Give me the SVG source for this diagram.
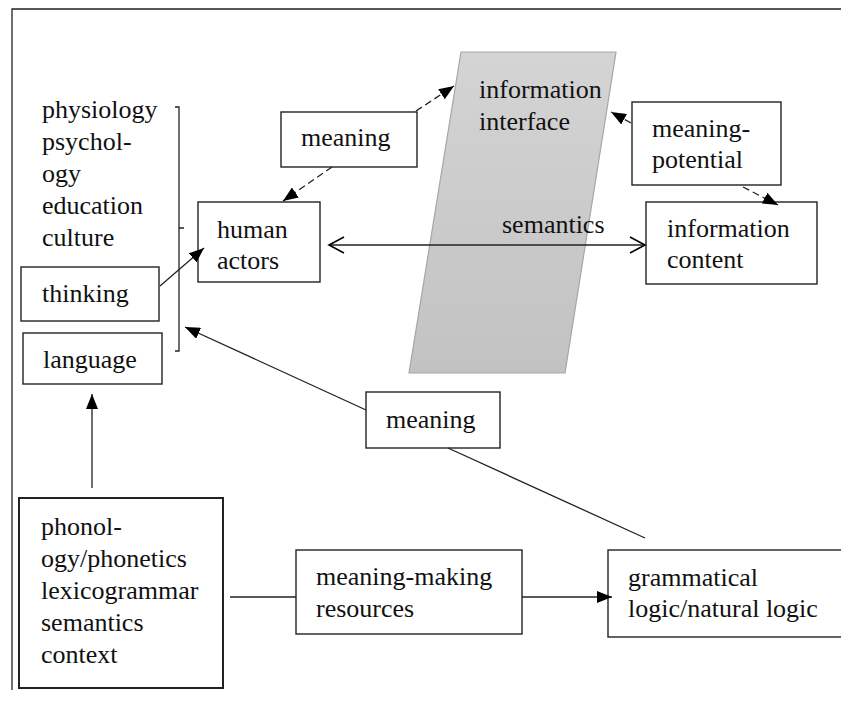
<svg xmlns="http://www.w3.org/2000/svg" width="841" height="702" viewBox="0 0 841 702">
<defs>
<style>
text{font-size:26px;fill:#111}
.box{fill:#fff;stroke:#222;stroke-width:1.4}
.thick{stroke-width:2}
.ln{fill:none;stroke:#222;stroke-width:1.3}
.dash{stroke-dasharray:7 4}
</style>
<linearGradient id="g" x1="0" y1="0" x2="0" y2="1">
<stop offset="0" stop-color="#d4d4d4"/>
<stop offset="1" stop-color="#c2c2c2"/>
</linearGradient>
<marker id="ah" markerUnits="userSpaceOnUse" markerWidth="16" markerHeight="12" refX="15" refY="6" orient="auto">
<path d="M0,0 L15,6 L0,12 z" fill="#000"/>
</marker>
<marker id="oa" markerUnits="userSpaceOnUse" markerWidth="18" markerHeight="20" refX="16" refY="9" orient="auto-start-reverse">
<path d="M1,1 L16,9 L1,17" fill="none" stroke="#000" stroke-width="1.6"/>
</marker>
</defs>
<rect width="841" height="702" fill="#fff"/>
<g font-family="Liberation Serif, Times New Roman, serif">
<g id="frame">
<path class="ln" d="M12,690 V9 H841" stroke-width="1.5"/>
</g>
<g id="interface">
<polygon points="461,52 616,52 565,373 409,373" fill="url(#g)" stroke="#a6a6a6" stroke-width="1.2"/>
<text x="479" y="98">information</text>
<text x="479" y="130">interface</text>
</g>
<g id="factors">
<text x="42" y="118">physiology</text>
<text x="42" y="150">psychol-</text>
<text x="42" y="182">ogy</text>
<text x="42" y="214">education</text>
<text x="42" y="246">culture</text>
<path class="ln" d="M175,107 H179 V351 H175 M179,228 H184"/>
</g>
<g id="thinking">
<rect class="box" x="21" y="267" width="138" height="54"/>
<text x="42" y="302">thinking</text>
</g>
<g id="language">
<rect class="box" x="23" y="333" width="139" height="51"/>
<text x="43" y="368">language</text>
</g>
<g id="meaning-top">
<rect class="box" x="281" y="112" width="136" height="55"/>
<text x="301" y="146">meaning</text>
</g>
<g id="human-actors">
<rect class="box" x="198" y="202" width="122" height="80"/>
<text x="217" y="238">human</text>
<text x="217" y="269">actors</text>
</g>
<g id="meaning-potential">
<rect class="box" x="632" y="102" width="149" height="83"/>
<text x="652" y="137">meaning-</text>
<text x="652" y="168">potential</text>
</g>
<g id="information-content">
<rect class="box" x="646" y="202" width="171" height="82"/>
<text x="667" y="237">information</text>
<text x="667" y="268">content</text>
</g>
<g id="semantics-label">
<text x="502" y="233">semantics</text>
</g>
<g id="meaning-mid">
<rect class="box" x="366" y="392" width="134" height="56"/>
<text x="386" y="428">meaning</text>
</g>
<g id="phonology">
<rect class="box thick" x="19" y="498" width="204" height="190"/>
<text x="41" y="535">phonol-</text>
<text x="41" y="567">ogy/phonetics</text>
<text x="41" y="599">lexicogrammar</text>
<text x="41" y="631">semantics</text>
<text x="41" y="663">context</text>
</g>
<g id="meaning-making">
<rect class="box" x="296" y="550" width="226" height="84"/>
<text x="316" y="585">meaning-making</text>
<text x="316" y="617">resources</text>
</g>
<g id="grammatical">
<rect class="box" x="608" y="550" width="240" height="87"/>
<text x="628" y="586">grammatical</text>
<text x="628" y="617">logic/natural logic</text>
</g>
<g id="connectors">
<line class="ln" x1="160" y1="286" x2="204" y2="248" marker-end="url(#ah)"/>
<line class="ln dash" x1="332" y1="167" x2="283" y2="201" marker-end="url(#ah)"/>
<line class="ln dash" x1="416" y1="111" x2="454" y2="86" marker-end="url(#ah)"/>
<line class="ln dash" x1="631" y1="123" x2="611" y2="112" marker-end="url(#ah)"/>
<line class="ln dash" x1="743" y1="187" x2="778" y2="205" marker-end="url(#ah)"/>
<line class="ln" x1="329" y1="245" x2="645" y2="245" stroke-width="2" marker-start="url(#oa)" marker-end="url(#oa)"/>
<line class="ln" x1="92" y1="488" x2="92" y2="394" marker-end="url(#ah)"/>
<line class="ln" x1="366" y1="410" x2="185" y2="327" marker-end="url(#ah)"/>
<line class="ln" x1="645" y1="538" x2="448" y2="448"/>
<line class="ln" x1="230" y1="597" x2="296" y2="597"/>
<line class="ln" x1="522" y1="597" x2="612" y2="597" marker-end="url(#ah)"/>
</g>
</g>
</svg>
